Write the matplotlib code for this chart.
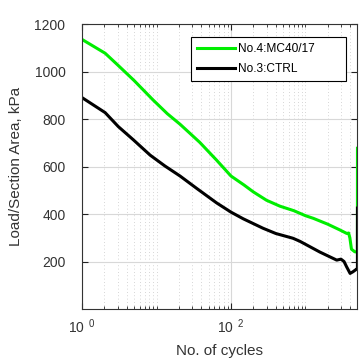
import matplotlib
matplotlib.use("Agg")
import matplotlib.pyplot as plt
from matplotlib.ticker import FixedLocator, NullFormatter

plt.rcParams['font.family'] = ['Liberation Sans', 'DejaVu Sans']
plt.rcParams['mathtext.fontset'] = 'custom'
plt.rcParams['mathtext.rm'] = 'Liberation Sans'

# No.4:MC40/17 (green)
n_mc = [1, 2.04, 3, 5, 9, 14, 20.7, 38, 64, 100, 150, 200, 300, 455, 700,
        1000, 1273, 2000, 2900, 3400, 3600, 3800, 3950, 4150, 4600, 4990, 5000]
load_mc = [1135, 1077, 1028, 962, 880, 822, 778, 702, 627, 560, 522, 493, 458,
           433, 414, 393, 382, 357, 333, 322, 318, 320, 300, 252, 241, 240, 677]

# No.3:CTRL (black)
n_ctrl = [1, 2.04, 3.07, 4.9, 8.2, 13, 20.7, 34.6, 64, 100, 146, 270, 400,
          680, 845, 1560, 2630, 3000, 3300, 3570, 3980, 4350, 4860, 4990, 5000]
load_ctrl = [890, 827, 768, 712, 648, 602, 560, 508, 447, 408, 380, 340, 318,
             298, 285, 240, 206, 210, 200, 178, 150, 157, 168, 170, 425]

fig = plt.figure(figsize=(3.6, 3.64), dpi=100)
ax = fig.add_axes([0.228, 0.151, 0.765, 0.783])

ax.plot(n_mc, load_mc, color='#00ee00', lw=2.2, label='No.4:MC40/17')
ax.plot(n_ctrl, load_ctrl, color='black', lw=2.2, label='No.3:CTRL')

ax.set_xscale('log')
ax.set_xlim(1, 5000)
ax.set_ylim(0, 1200)

ax.xaxis.set_major_locator(FixedLocator([1, 100]))
ax.set_xticklabels([r'$\mathrm{10}^{\enspace 0}$', r'$\mathrm{10}^{\enspace 2}$'])
minors = [m * 10 ** k for k in range(4) for m in range(2, 11)]
ax.xaxis.set_minor_locator(FixedLocator([v for v in minors if v not in (100,)]))
ax.xaxis.set_minor_formatter(NullFormatter())
ax.set_yticks([200, 400, 600, 800, 1000, 1200])

ax.grid(True, which='major', color='#d8d8d8', lw=0.8, ls='-')
ax.grid(True, which='minor', axis='x', color='#c8c8c8', lw=0.6, ls=(0, (1, 3)))
ax.set_axisbelow(True)

ax.tick_params(which='both', direction='in', top=True, right=True,
               labelsize=10, colors='#222222', labelcolor='#333333')
ax.tick_params(which='major', length=4)
ax.tick_params(which='minor', length=2.5)
ax.tick_params(axis='y', pad=12)
ax.tick_params(axis='x', pad=6)
for s in ax.spines.values():
    s.set_color('#333333')

ax.set_xlabel('No. of cycles', fontsize=11, color='#333333', labelpad=6)
ax.set_ylabel('Load/Section Area, kPa', fontsize=11, color='#333333', labelpad=8)

leg = ax.legend(loc='upper right', bbox_to_anchor=(0.96, 0.954), fontsize=8.6,
                handlelength=3.2, handletextpad=0.25, labelspacing=0.7,
                fancybox=False, framealpha=1, edgecolor='black',
                borderpad=0.5, borderaxespad=0)
leg.get_frame().set_linewidth(0.8)
for t in leg.get_texts():
    t.set_text(t.get_text() + '        ')

fig.savefig('out.png', dpi=100)
